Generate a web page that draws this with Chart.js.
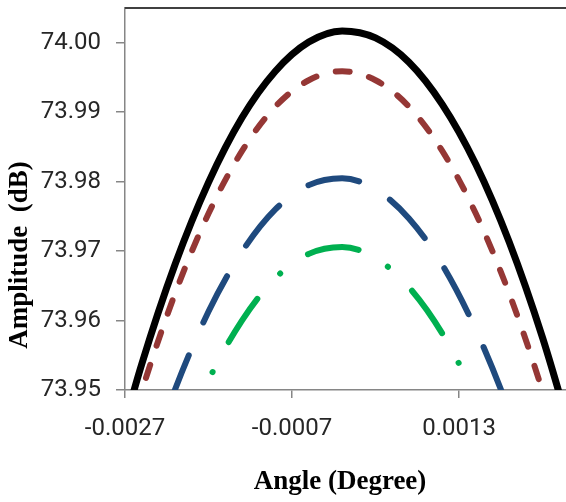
<!DOCTYPE html>
<html>
<head>
<meta charset="utf-8">
<script src="https://cdn.jsdelivr.net/npm/chart.js@4.4.1/dist/chart.umd.min.js"></script>
<style>
  body { margin: 0; background: #fff; }
  #wrap { width: 566px; height: 502px; }
</style>
</head>
<body>
<div id="wrap"><canvas id="graph" width="566" height="502"></canvas></div>
<script>
// angle samples (degree)
const angles = [-0.0029, -0.0025, -0.0021, -0.0017, -0.0013, -0.0009, -0.0005, -0.0001,
                0.0003, 0.0007, 0.0011, 0.0015, 0.0019, 0.0023, 0.0027];

// amplitude (dB)
const solidCurve  = [73.9367, 73.9537, 73.9681, 73.9799, 73.9892, 73.9959, 74.0001, 74.0017,
                     74.0007, 73.9972, 73.9911, 73.9825, 73.9713, 73.9575, 73.9412];
const dashCurve   = [73.9332, 73.9498, 73.9639, 73.9754, 73.9844, 73.9908, 73.9946, 73.9959,
                     73.9946, 73.9908, 73.9844, 73.9754, 73.9639, 73.9498, 73.9332];
const longDashCurve = [73.9200, 73.9363, 73.9501, 73.9613, 73.9699, 73.9760, 73.9795, 73.9805,
                       73.9789, 73.9747, 73.9680, 73.9587, 73.9469, 73.9325, 73.9155];
const dashDotCurve  = [73.9101, 73.9264, 73.9402, 73.9514, 73.9600, 73.9661, 73.9696, 73.9706,
                       73.9690, 73.9648, 73.9581, 73.9488, 73.9370, 73.9226, 73.9056];

const xTickValues = [-0.0027, -0.0007, 0.0013];
const xTickLabels = ['-0.0027', '-0.0007', '0.0013'];
const yTickValues = [73.95, 73.96, 73.97, 73.98, 73.99, 74.00];
const yTickLabels = ['73.95', '73.96', '73.97', '73.98', '73.99', '74.00'];

const toPoints = vals => angles.map((a, i) => ({ x: a, y: vals[i] }));

const serie = (vals, color, width, dash, offset) => ({
  data: toPoints(vals),
  borderColor: color,
  borderWidth: width,
  borderDash: dash,
  borderDashOffset: offset,
  borderCapStyle: 'round',
  borderJoinStyle: 'round',
  pointRadius: 0,
  cubicInterpolationMode: 'monotone',
  clip: 0
});

// axis titles + top frame line
const cadre = {
  id: 'cadre',
  afterDraw(chart) {
    const { ctx, chartArea } = chart;
    ctx.save();
    ctx.strokeStyle = '#404040';
    ctx.lineWidth = 2;
    ctx.beginPath();
    ctx.moveTo(chartArea.left, chartArea.top);
    ctx.lineTo(chartArea.right, chartArea.top);
    ctx.stroke();

    ctx.fillStyle = '#000';
    ctx.font = 'bold 27px "Liberation Serif", "Times New Roman", serif';
    ctx.textAlign = 'center';
    ctx.textBaseline = 'middle';
    ctx.fillText('Angle (Degree)', 340, 482);
    ctx.translate(20, 255);
    ctx.rotate(-Math.PI / 2);
    ctx.fillText('Amplitude  (dB)', 0, 0);
    ctx.restore();
  }
};

new Chart(document.getElementById('graph'), {
  type: 'line',
  data: {
    datasets: [
      serie(solidCurve, '#000000', 7, [], 0),
      serie(dashCurve, '#953735', 6, [14, 20], 2),
      serie(longDashCurve, '#1F4A7E', 6, [52, 36], 60),
      serie(dashDotCurve, '#00B050', 6, [52, 34, 0.1, 34], 13)
    ]
  },
  options: {
    responsive: false,
    animation: false,
    layout: { padding: { top: 8, right: 0, left: 0, bottom: 0 } },
    plugins: { legend: { display: false }, tooltip: { enabled: false } },
    scales: {
      x: {
        type: 'linear',
        min: -0.0027,
        max: 0.00258,
        afterBuildTicks: s => { s.ticks = xTickValues.map(v => ({ value: v })); },
        afterFit: s => { s.height = 112; s.paddingLeft = 0; s.paddingRight = 0; },
        ticks: {
          callback: (v, i) => xTickLabels[i],
          font: { family: 'Roboto', size: 24 },
          color: '#262626',
          padding: 17,
          maxRotation: 0
        },
        grid: { drawOnChartArea: false, tickLength: 8, color: '#868686', lineWidth: 1.5 },
        border: { color: '#868686', width: 1.5 }
      },
      y: {
        type: 'linear',
        min: 73.95,
        max: 74.005,
        afterBuildTicks: s => { s.ticks = yTickValues.map(v => ({ value: v })); },
        afterFit: s => { s.width = 125; s.paddingTop = 0; s.paddingBottom = 0; },
        ticks: {
          callback: (v, i) => yTickLabels[i],
          font: { family: 'Roboto', size: 24 },
          color: '#262626',
          padding: 15
        },
        grid: { drawOnChartArea: false, tickLength: 9, color: '#868686', lineWidth: 1.5 },
        border: { color: '#868686', width: 1.5 }
      }
    }
  },
  plugins: [cadre]
});
</script>
</body>
</html>
